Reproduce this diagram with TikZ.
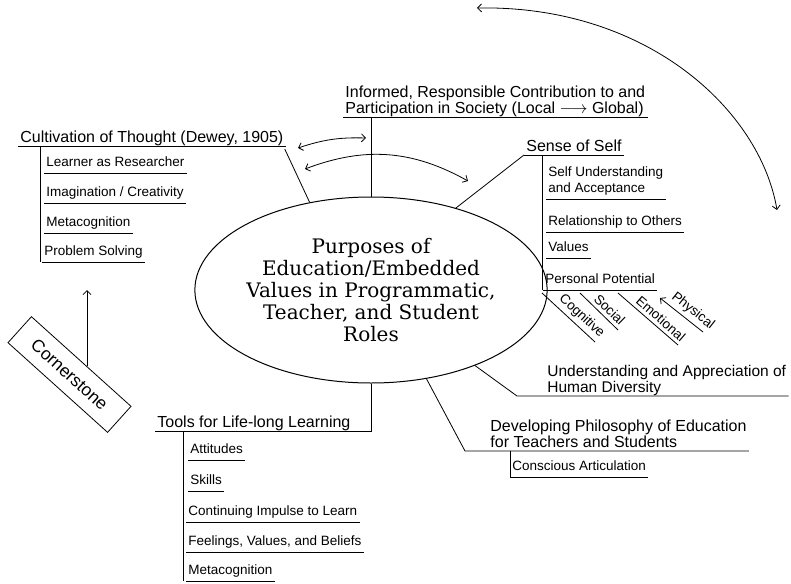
\documentclass[tikz,border=0pt]{standalone}
\usepackage{fontspec}
\setmainfont{Liberation Sans}
\newfontfamily\slabfont{DejaVu Serif}
\usetikzlibrary{arrows.meta,shapes.geometric}
\newcommand{\headsize}{\fontsize{16}{15.5}\selectfont}
\newcommand{\itemsize}{\fontsize{13.5}{16}\selectfont}
\tikzstyle{arrow} = [-{Straight Barb[length=4pt,width=8pt]}]
\tikzstyle{backarrow} = [{Straight Barb[length=4pt,width=8pt]}-]
\tikzstyle{twoway} = [{Straight Barb[length=4pt,width=8pt]}-{Straight Barb[length=4pt,width=8pt]}]
\tikzstyle{uline} = [append after command={(\tikzlastnode.south west) edge (\tikzlastnode.south east)}]
\tikzstyle{head} = [anchor=south west,inner xsep=2pt,inner ysep=0.5pt,text depth=3pt,align=left,font=\headsize]
\tikzstyle{item} = [head,uline,inner ysep=3pt,font=\itemsize]
\tikzstyle{slant} = [pos=0.62,above,sloped,font=\itemsize]

\begin{document}
\begin{tikzpicture}[x=1pt,y=-1pt,line width=0.8pt]
        \useasboundingbox (0,0) rectangle (791,583);
        \node[draw,ellipse,line width=1pt,minimum width=272,minimum height=186,inner sep=0pt,align=center,font={\slabfont\fontsize{20}{22}\selectfont}] at (371,290) (purpose) {Purposes of\\Education/Embedded\\Values in Programmatic,\\Teacher, and Student\\Roles};

        \node[head,uline] at (18,146) (cult) {Cultivation of Thought (Dewey, 1905)};
        \node[item] at (44,173) (learner) {Learner as Researcher};
        \node[item] at (44,203) (imagine) {Imagination / Creativity};
        \node[item] at (44,233) (meta1) {Metacognition};
        \node[item] at (42,262) (solve) {Problem Solving};
        \coordinate (cultbar) at ([xshift=22pt]cult.south west);
        \draw (cultbar) -- (cultbar |- solve.south);
        \draw (purpose.125) -- ([xshift=-1pt,yshift=-3pt]cult.south east);

        \node[head,uline] at (343,117) (society) {Informed, Responsible Contribution to and\\Participation in Society (Local $\longrightarrow$ Global)};
        \draw (purpose.north) -- (purpose.north |- society.south);
        \coordinate (t1) at (298,148);
        \coordinate (t2) at (366,138);
        \coordinate (t3) at (305,169);
        \coordinate (t4) at (468,181);
        \draw[twoway] (t1) to[bend left=10] (t2);
        \draw[twoway] (t3) to[bend left=25] (t4);
        \coordinate (arcL) at (477,8);
        \coordinate (arcR) at (777,210);
        \draw[twoway] (arcL) .. controls +(170,-3) and +(-17,-100) .. (arcR);

        \node[head,uline] at (524,155) (self) {Sense of Self};
        \draw (purpose.44) -- (self.south west);
        \node[item] at (546,199) (accept) {Self Understanding\\and Acceptance};
        \node[item] at (546,232) (others) {Relationship to Others};
        \node[item] at (546,258) (values) {Values};
        \node[item] at (543,290) (potential) {Personal Potential};
        \coordinate (selfbar) at ([xshift=18pt]self.south west);
        \draw (selfbar) -- (selfbar |- potential.south);
        \draw ([shift={(-1,3)}]potential.south west) -- ++(53,49) node[slant] {Cognitive};
        \draw ([shift={(37,3)}]potential.south west) -- ++(38,37) node[slant] {Social};
        \draw ([shift={(75,3)}]potential.south west) -- ++(60,52) node[slant] {Emotional};
        \draw[backarrow] ([shift={(117,8)}]potential.south west) -- ++(43,34) node[slant] {Physical};

        \coordinate (divturn) at (517,396);
        \node[head,font=\fontsize{15.5}{16}\selectfont] at (545,396) (diverse) {Understanding and Appreciation of\\Human Diversity};
        \draw (purpose.-36) -- (divturn) -- (diverse.south east);

        \coordinate (philturn) at (465,451);
        \node[head] at (488,451) (philo) {Developing Philosophy of Education\\for Teachers and Students};
        \draw (purpose.-58) -- (philturn) -- (philo.south east);
        \node[item] at (510,477) (artic) {Conscious Articulation};
        \draw (artic.south west) -- (artic.south west |- philo.south);

        \node[head] at (155,431) (tools) {Tools for Life-long Learning};
        \draw (purpose.south) -- (purpose.south |- tools.south) -- (tools.south west);
        \node[item] at (188,460) (attit) {Attitudes};
        \node[item] at (188,491) (skills) {Skills};
        \node[item] at (186,522) (impulse) {Continuing Impulse to Learn};
        \node[item] at (186,552) (beliefs) {Feelings, Values, and Beliefs};
        \node[item] at (186,581) (meta2) {Metacognition};
        \coordinate (toolbar) at ([xshift=28pt]tools.south west);
        \draw (toolbar) -- (toolbar |- meta2.south);

        \node[draw,rotate=-42,minimum width=134,minimum height=35,font=\fontsize{17.5}{17.5}\selectfont] at (69.5,374.5) (corner) {Cornerstone};
        \coordinate (cornertip) at (87,290);
        \draw[arrow] (corner.north -| cornertip) ++(0,5) -- (cornertip);
\end{tikzpicture}
\end{document}
